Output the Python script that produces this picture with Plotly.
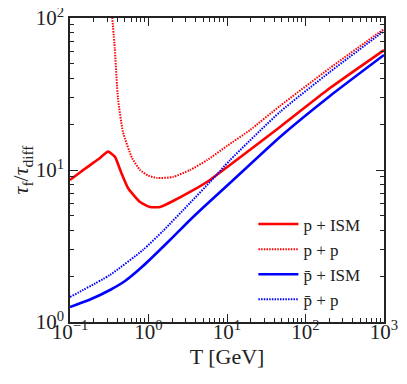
import plotly.graph_objects as go

# ---- data (T in GeV, ratio tau_f / tau_diff)
T_P_ISM = [0.1, 0.155, 0.241, 0.305, 0.374, 0.446, 0.548, 0.78, 1.045, 1.40, 2.05, 3.38, 6.07, 10.9, 47.3, 205, 1000]
V_P_ISM = [8.60, 10.2, 12.0, 13.2, 12.2, 9.70, 7.61, 6.16, 5.71, 5.71, 6.25, 7.17, 8.60, 10.8, 19.2, 34.6, 61.5]

T_P_P = [0.345, 0.372, 0.408, 0.473, 0.617, 0.78, 0.986, 1.28, 2.05, 3.38, 5.56, 10.0, 19.6, 47.3, 205, 1000]
V_P_P = [101, 63, 29.7, 17.8, 12.0, 10.0, 9.20, 8.86, 9.0, 10.0, 11.6, 14.4, 18.3, 26.4, 46.9, 84.7]

T_PBAR_ISM = [0.1, 0.18, 0.323, 0.502, 0.851, 1.879, 3.38, 5.56, 10.9, 47.3, 205, 1000]
V_PBAR_ISM = [1.255, 1.406, 1.624, 1.861, 2.335, 3.464, 4.69, 5.97, 8.21, 16.5, 30.7, 57.1]

T_PBAR_P = [0.1, 0.323, 0.851, 1.53, 3.38, 6.07, 10.9, 47.3, 205, 1000]
V_PBAR_P = [1.46, 2.04, 2.98, 3.97, 6.07, 8.34, 11.6, 24.1, 44.2, 82.1]

X_TICKS = [0.1, 1, 10, 100, 1000]
X_LABELS = ["10<sup>−1</sup>", "10<sup>0</sup>", "10<sup>1</sup>", "10<sup>2</sup>", "10<sup>3</sup>"]
Y_TICKS = [1, 10, 100]
Y_LABELS = ["10<sup>0</sup>", "10<sup>1</sup>", "10<sup>2</sup>"]
X_MINOR = [m * 10.0 ** e for e in (-1, 0, 1, 2) for m in range(2, 10)]
Y_MINOR = [m * 10.0 ** e for e in (0, 1) for m in range(2, 10)]

SERIES = [
    ("p + ISM", T_P_ISM, V_P_ISM, "#ff0000", "solid", 2.6),
    ("p + p", T_P_P, V_P_P, "#ff0000", "1.5px,1.2px", 2),
    ("p\u0304 + ISM", T_PBAR_ISM, V_PBAR_ISM, "#0000ff", "solid", 2.6),
    ("p\u0304 + p", T_PBAR_P, V_PBAR_P, "#0000ff", "1.5px,1.2px", 2),
]

FONT = "Liberation Serif, DejaVu Serif, serif"

fig = go.Figure()
for name, t, v, col, dash, w in SERIES:
    fig.add_trace(go.Scatter(x=t, y=v, name=name, mode="lines",
                             line=dict(color=col, dash=dash, width=w, shape="spline", smoothing=0.5)))

axis = dict(type="log", tickmode="array", automargin=False,
            ticks="inside", ticklen=8, tickwidth=1.2, tickcolor="#222",
            showline=True, linecolor="#222", linewidth=1.5, mirror="ticks",
            showgrid=False, zeroline=False, ticklabeloverflow="allow",
            tickfont=dict(size=21, family=FONT, color="#222"),
            title_font=dict(size=22, family=FONT, color="#222"))
minor = dict(tickmode="array", ticks="inside", ticklen=4, tickwidth=1, tickcolor="#222", showgrid=False)

# the page's default body margin (8px) offsets the figure, so margins are trimmed to match
fig.update_layout(
    width=399, height=376, margin=dict(l=62, r=23, t=10, b=62),
    paper_bgcolor="white", plot_bgcolor="white",
    font=dict(family=FONT, color="#222"),
    xaxis=dict(axis, range=[-1, 3], tickvals=X_TICKS, ticktext=X_LABELS,
               minor=dict(minor, tickvals=X_MINOR), ticklabelstandoff=-10,
               title=dict(text="T [GeV]", standoff=4)),
    yaxis=dict(axis, range=[0, 2], tickvals=Y_TICKS, ticktext=Y_LABELS,
               minor=dict(minor, tickvals=Y_MINOR),
               title=dict(text="<i>τ</i><sub>f</sub>/<i>τ</i><sub>diff</sub>", standoff=2)),
    legend=dict(x=0.584, y=0.38, xanchor="left", yanchor="top", itemwidth=40,
                bgcolor="rgba(0,0,0,0)", font=dict(size=17, family=FONT, color="#222")),
    showlegend=True,
)

fig.write_html("out.html")
